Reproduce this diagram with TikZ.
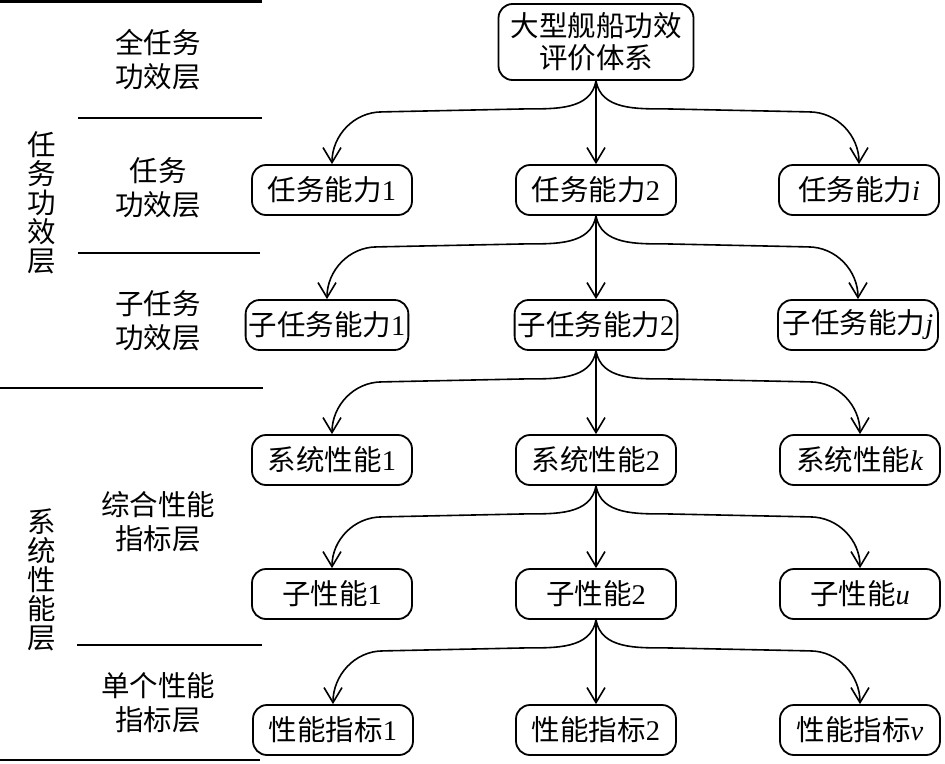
\documentclass[tikz,border=0pt]{standalone}
\usepackage{fontspec}
\setmainfont{Liberation Serif}
\newfontfamily\cjk{Noto Sans CJK SC}
\usetikzlibrary{arrows.meta,calc}
\newcommand\zhtxt[1]{{\cjk #1}}
\begin{document}
\begin{tikzpicture}[x=1pt,y=1pt,
  box/.style={draw, line width=1.8pt, rounded corners=14pt, minimum width=160pt,
    minimum height=50pt, inner xsep=3pt, inner ysep=2pt, align=center,
    font=\fontsize{28.5}{32}\selectfont},
  lbl/.style={align=center, font=\fontsize{28.5}{34}\selectfont\cjk},
  vlbl/.style={align=center, font=\fontsize{28.5}{29}\selectfont\cjk},
  sepline/.style={line width=2.6pt},
  arr/.style={line width=1.6pt, -{Straight Barb[length=15pt,width=18pt]}},
]
\useasboundingbox (0,0) rectangle (945,-763);

% left separator lines
\draw[sepline] (0,-1.3) -- (262,-1.3);
\draw[sepline] (78,-118) -- (262,-118);
\draw[sepline] (78,-253) -- (260,-253);
\draw[sepline] (0,-388) -- (263,-388);
\draw[sepline] (77,-645) -- (262,-645);
\draw[sepline] (0,-760) -- (260,-760);

% left labels
\node[lbl] (l1) at (158,-60) {全任务\\功效层};
\node[lbl] (l2) at (158,-188) {任务\\功效层};
\node[lbl] (l3) at (158,-321) {子任务\\功效层};
\node[lbl] (l4) at (158,-522) {综合性能\\指标层};
\node[lbl] (l5) at (158,-703) {单个性能\\指标层};
\node[vlbl] (v1) at (42,-203) {任\\务\\功\\效\\层};
\node[vlbl] (v2) at (42,-580) {系\\统\\性\\能\\层};

% nodes
\node[box, minimum width=195pt, minimum height=76pt] (top) at (596,-42)
  {\zhtxt{大型舰船功效}\\\zhtxt{评价体系}};

\node[box] (a1) at (332,-190) {\zhtxt{任务能力}1};
\node[box] (a2) at (596,-190) {\zhtxt{任务能力}2};
\node[box] (a3) at (859,-190) {\zhtxt{任务能力}\textit{i}};

\node[box] (b1) at (327,-325) {\zhtxt{子任务能力}1};
\node[box] (b2) at (596,-325) {\zhtxt{子任务能力}2};
\node[box] (b3) at (858,-325) {\zhtxt{子任务能力}\textit{j}};

\node[box] (c1) at (332,-460) {\zhtxt{系统性能}1};
\node[box] (c2) at (596,-460) {\zhtxt{系统性能}2};
\node[box] (c3) at (860,-460) {\zhtxt{系统性能}\textit{k}};

\node[box] (d1) at (332,-594) {\zhtxt{子性能}1};
\node[box] (d2) at (596,-594) {\zhtxt{子性能}2};
\node[box] (d3) at (860,-594) {\zhtxt{子性能}\textit{u}};

\node[box] (e1) at (333,-730) {\zhtxt{性能指标}1};
\node[box] (e2) at (596,-730) {\zhtxt{性能指标}2};
\node[box] (e3) at (860,-730) {\zhtxt{性能指标}\textit{v}};

% connectors
\foreach \np/\nl/\nm/\nr in {top/a1/a2/a3, a2/b1/b2/b3, b2/c1/c2/c3, c2/d1/d2/d3, d2/e1/e2/e3}{
  \draw[arr] (\np.south) -- (\np.south |- \nm.north);
  \draw[arr] let \p1=(\np.south), \p2=(\nl.north) in
    (\p1) to[out=-100,in=0] (\x1-70pt,\y1-28pt) -- (\x2+50pt,\y1-31pt)
    to[out=180,in=90] (\p2);
  \draw[arr] let \p1=(\np.south), \p2=(\nr.north) in
    (\p1) to[out=-80,in=180] (\x1+70pt,\y1-28pt) -- (\x2-50pt,\y1-31pt)
    to[out=0,in=90] (\p2);
}
\end{tikzpicture}
\end{document}
